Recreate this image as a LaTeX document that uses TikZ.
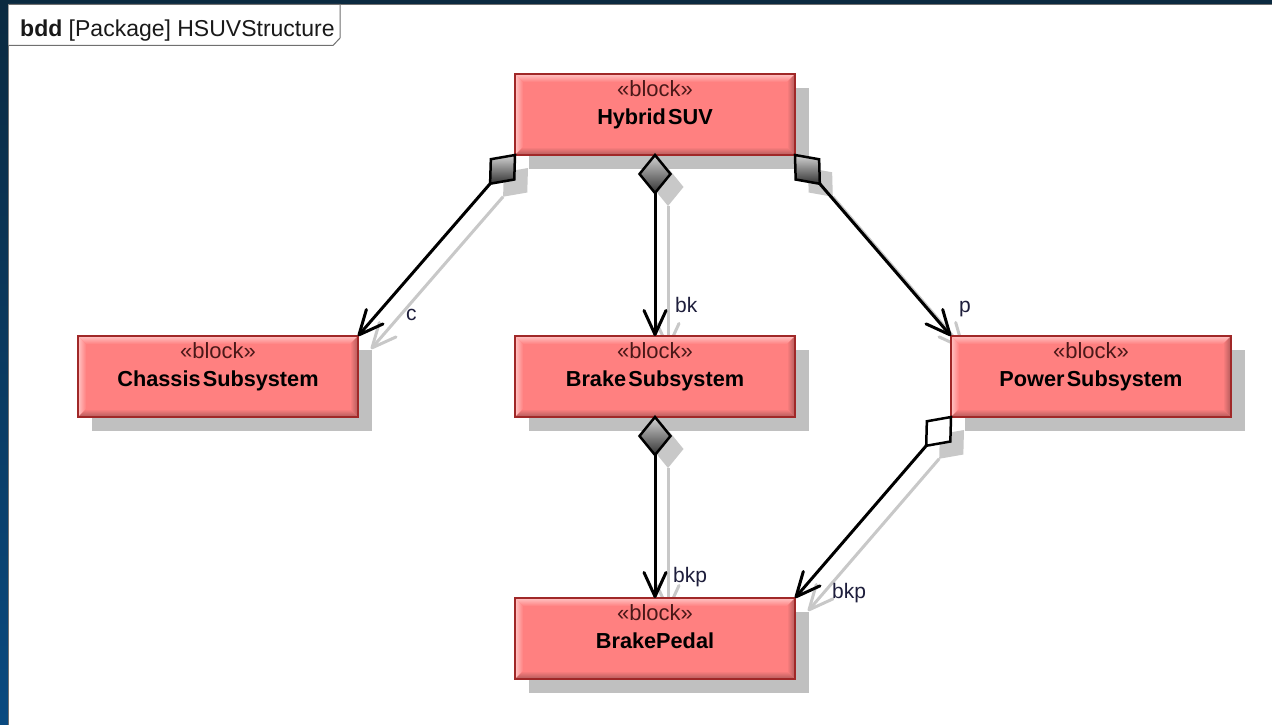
\documentclass[tikz,border=0pt]{standalone}
\usepackage{fontspec}
\setmainfont{Liberation Sans}
\usetikzlibrary{calc,arrows.meta}

\definecolor{navy}{HTML}{0B2A40}
\definecolor{navylow}{HTML}{0A4A80}
\definecolor{blockfill}{HTML}{FF8080}
\definecolor{blocklite}{HTML}{FFC4C4}
\definecolor{blockdark}{HTML}{B05A5A}
\definecolor{blockedge}{HTML}{A02828}
\definecolor{shadowgray}{HTML}{C0C0C0}
\definecolor{linkshadow}{HTML}{C8C8C8}
\definecolor{stereocol}{HTML}{4A1818}
\definecolor{rolecol}{HTML}{1E1E3C}
\definecolor{framegray}{HTML}{707070}

\tikzset{
  blockbox/.style={minimum width=280pt, minimum height=81pt, inner sep=0pt, outer sep=0pt},
  stereotext/.style={font=\fontsize{22}{26}\selectfont, text=stereocol, inner sep=0pt, anchor=base},
  nametext/.style={font=\fontsize{21.7}{26}\selectfont\bfseries, text=black, inner sep=0pt, anchor=base},
  roletext/.style={font=\fontsize{21}{24}\selectfont, text=rolecol, inner sep=0pt, anchor=base west},
  linkline/.style={line width=3pt, line join=round,
    -{Straight Barb[length=24pt,width=22pt,line width=3pt,round]}},
  shadowline/.style={linkline, draw=linkshadow},
  solidpart/.style={draw=black, line width=2.5pt, line join=miter,
    top color=gray!35, bottom color=black!80},
  openpart/.style={draw=black, line width=2.5pt, line join=miter, fill=white},
  shadowpart/.style={fill=linkshadow},
}

% a block node, placed by its centre x and its top y
\newcommand\sysblock[3]{\node[blockbox] (#1) at (#2, #3+40.5) {};}

% gray drop shadow behind a block
\newcommand\blockshadow[1]{%
  \fill[shadowgray] ($(#1.north west)+(14,14)$) rectangle ($(#1.south east)+(14,14)$);}

% bevelled face of a block with its stereotype and name
\newcommand\blockface[2]{%
  \fill[blockfill] (#1.north west) rectangle (#1.south east);
  \shade[top color=blocklite, bottom color=blockfill]
    (#1.north west) -- (#1.north east) -- ($(#1.north east)+(-8,8)$) -- ($(#1.north west)+(8,8)$) -- cycle;
  \shade[left color=blocklite, right color=blockfill]
    (#1.north west) -- ($(#1.north west)+(8,8)$) -- ($(#1.south west)+(8,-8)$) -- (#1.south west) -- cycle;
  \shade[top color=blockfill, bottom color=blockdark]
    (#1.south west) -- ($(#1.south west)+(8,-8)$) -- ($(#1.south east)+(-8,-8)$) -- (#1.south east) -- cycle;
  \shade[left color=blockfill, right color=blockdark]
    (#1.north east) -- (#1.south east) -- ($(#1.south east)+(-8,-8)$) -- ($(#1.north east)+(-8,8)$) -- cycle;
  \draw[blockedge, line width=1.2pt] (#1.north west) rectangle (#1.south east);
  \node[stereotext] (#1-st) at ($(#1.north)+(0,22)$) {«block»};
  \node[nametext] (#1-nm) at ($(#1.north)+(0,50)$) {#2};
}

% part association: diamond at the whole (#1), arrow at the part (#2)
% #3 diamond style, #4 line style, #5 offset
\newcommand\partlink[5]{%
  \coordinate (ls) at ($(#1)+(#5)$);
  \coordinate (le) at ($(#2)+(#5)$);
  \coordinate (lm) at ($(ls)!19pt!(le)$);
  \coordinate (ld) at ($(ls)!38pt!(le)$);
  \draw[#4] (ld) -- (le);
  \path[#3] (ls) -- ($(lm)!15.5pt!90:(le)$) -- (ld) -- ($(lm)!15.5pt!-90:(le)$) -- cycle;
}

\begin{document}
\begin{tikzpicture}[x=1pt,y=-1pt]
  % window background and diagram canvas
  \useasboundingbox (0,0) rectangle (1272,725);
  \fill[navy] (0,0) rectangle (1272,725);
  \shade[top color=navy, bottom color=navylow] (0,0) rectangle (8,725);
  \fill[white] (8,4) rectangle (1272,725);
  \draw[framegray, line width=1pt] (8.5,725) -- (8.5,4.5) -- (1272,4.5);

  % diagram frame tab
  \draw[framegray, line width=1pt, fill=white]
    (8.5,4.5) -- (340,4.5) -- (340,38) -- (333,45.5) -- (8.5,45.5);
  \node[font=\fontsize{23}{26}\selectfont, text=black!90, inner sep=0pt, anchor=base west]
    (frametitle) at (20,37) {\textbf{bdd} [Package] HSUVStructure};

  % blocks
  \sysblock{hsuv}{655}{74}
  \sysblock{chassis}{218}{336}
  \sysblock{brake}{655}{336}
  \sysblock{power}{1091}{336}
  \sysblock{pedal}{655}{598}

  % shadows
  \blockshadow{hsuv}
  \blockshadow{chassis}
  \blockshadow{brake}
  \blockshadow{power}
  \blockshadow{pedal}
  \partlink{hsuv.south west}{chassis.north east}{shadowpart}{shadowline}{13,13}
  \partlink{hsuv.south}{brake.north}{shadowpart}{shadowline}{13,13}
  \partlink{hsuv.south east}{power.north west}{shadowpart}{shadowline}{13,13}
  \partlink{brake.south}{pedal.north}{shadowpart}{shadowline}{13,13}
  \partlink{power.south west}{pedal.north east}{shadowpart}{shadowline}{13,13}

  % block faces
  \blockface{hsuv}{Hybrid\hspace{0.1em}SUV}
  \blockface{chassis}{Chassis\hspace{0.1em}Subsystem}
  \blockface{brake}{Brake\hspace{0.1em}Subsystem}
  \blockface{power}{Power\hspace{0.1em}Subsystem}
  \blockface{pedal}{BrakePedal}

  % part associations
  \partlink{hsuv.south west}{chassis.north east}{solidpart}{linkline}{0,0}
  \partlink{hsuv.south}{brake.north}{solidpart}{linkline}{0,0}
  \partlink{hsuv.south east}{power.north west}{solidpart}{linkline}{0,0}
  \partlink{brake.south}{pedal.north}{solidpart}{linkline}{0,0}
  \partlink{power.south west}{pedal.north east}{openpart}{linkline}{0,0}

  % role names
  \node[roletext] (role-c) at (406,320) {c};
  \node[roletext] (role-bk) at (675,312) {bk};
  \node[roletext] (role-p) at (959,312) {p};
  \node[roletext] (role-bkp1) at (673,582) {bkp};
  \node[roletext] (role-bkp2) at (832,598) {bkp};
\end{tikzpicture}
\end{document}
